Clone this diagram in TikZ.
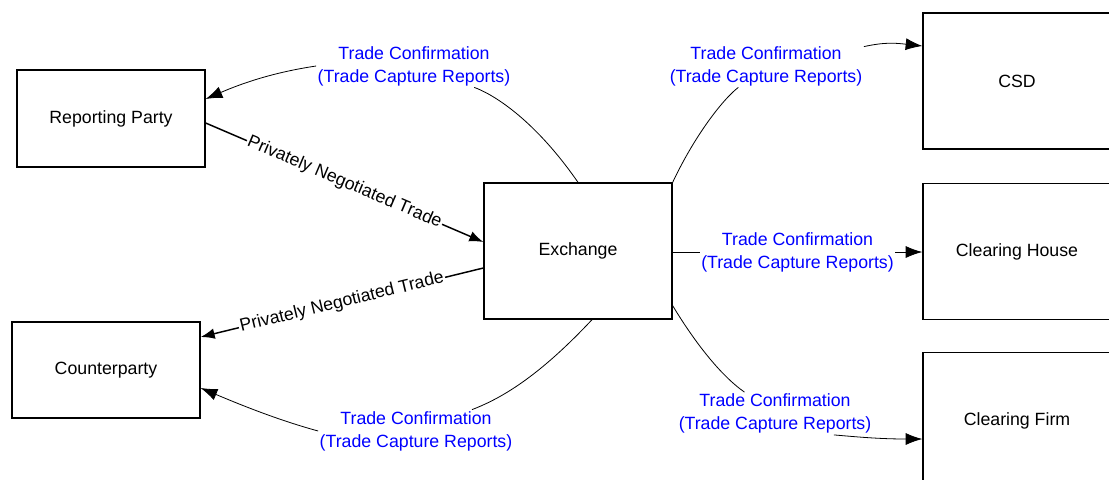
\documentclass[tikz,border=0pt]{standalone}
\usepackage{fontspec}
\setmainfont{Liberation Sans}
\usetikzlibrary{arrows.meta,calc}

\definecolor{confblue}{RGB}{0,0,255}

\tikzset{
  party/.style={draw, line width=1pt, minimum width=141pt, minimum height=102pt, inner sep=0pt, font=\fontsize{13.3}{17.3}\selectfont},
  conflabel/.style={text=confblue, fill=white, align=center, inner sep=1pt, font=\fontsize{13.3}{17.3}\selectfont},
  tradelabel/.style={fill=white, inner sep=1pt, font=\fontsize{13.3}{17.3}\selectfont},
  flow/.style={line width=0.6pt},
  flowtip/.style={flow, -{Latex[length=12.5pt,width=9pt]}},
  pnt/.style={line width=1.1pt, -{Latex[length=10.5pt,width=8pt]}},
}

\begin{document}
\begin{tikzpicture}[x=0.75pt,y=0.75pt,yscale=-1,xscale=1]
\useasboundingbox (0,0) rectangle (1109,479);
\clip (0,0) rectangle (1109,479);

% Parties
\node [party, minimum height=72.75pt] (rp) at (111,118.5) {Reporting Party};
\node [party, minimum height=72pt] (cp) at (106,370) {Counterparty};
\node [party] (ex) at (578,251) {Exchange};
\node [party] (csd) at (1017,81) {CSD};
\node [party] (ch) at (1017,251.5) {Clearing House};
\node [party] (cf) at (1017,420.5) {Clearing Firm};

% Text Node
\node [conflabel] (lab1) at (414,66) {Trade Confirmation\\(Trade Capture Reports)};
% Text Node
\node [conflabel] (lab2) at (416,431) {Trade Confirmation\\(Trade Capture Reports)};
% Text Node
\node [conflabel] (lab3) at (766,66) {Trade Confirmation\\(Trade Capture Reports)};
% Text Node
\node [conflabel] (lab5) at (775,413.5) {Trade Confirmation\\(Trade Capture Reports)};

% Connection
\draw [flow] (ex.north) .. controls (532,116) and (490,93) .. (lab1);
\draw [flowtip] (lab1.west) .. controls (276,72) and (245,82) .. ($(rp.east)+(0,-19.5)$);
% Connection
\draw [flow] ($(ex.south)+(14,0)$) .. controls (542,373) and (505,397) .. (lab2);
\draw [flowtip] (lab2.west) .. controls (278,420) and (241,405) .. ($(cp.east)+(0,18)$);
% Connection
\draw [flow] (ex.north east) .. controls (694,137) and (722,100) .. (lab3);
\draw [flowtip] ($(lab3.north east)+(0,2)$) .. controls (885,42) and (895,43) .. ($(csd.west)+(0,-35)$);
% Connection
\draw [flowtip] ($(ex.east)+(0,1)$) -- node [conflabel] (lab4) {Trade Confirmation\\(Trade Capture Reports)} ($(ch.west)+(0,0.5)$);
% Connection
\draw [flow] ($(ex.south east)+(0,-14)$) .. controls (694,341) and (720,375) .. (lab5);
\draw [flowtip] (lab5.-20) .. controls (858,437) and (880,439) .. ($(cf.west)+(0,18.5)$);

% Trades
\draw [pnt] ($(rp.east)+(0,4.5)$) -- node [tradelabel, rotate=-23.1] (pnt1) {Privately Negotiated Trade} ($(ex.west)+(0,-9)$);
\draw [pnt] ($(ex.west)+(0,17)$) -- node [tradelabel, rotate=13.7] (pnt2) {Privately Negotiated Trade} ($(cp.east)+(0,-33)$);

\end{tikzpicture}
\end{document}
